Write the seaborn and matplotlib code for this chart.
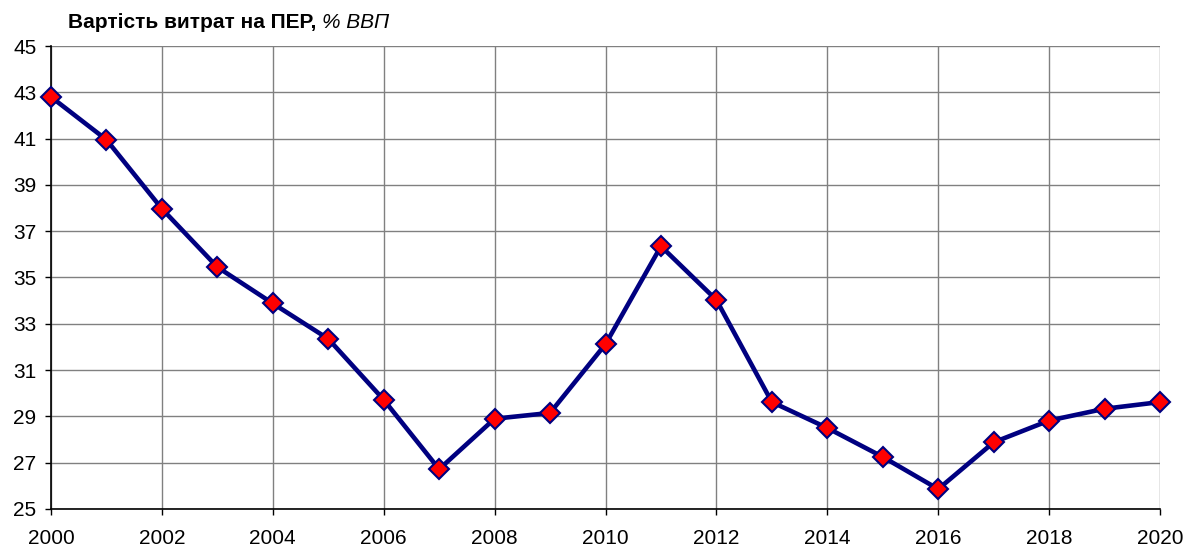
import numpy as np
import pandas as pd
import seaborn as sns
import matplotlib.pyplot as plt

years = list(range(2000, 2021))
values = [42.8, 40.95, 37.97, 35.45, 33.88, 32.35, 29.72, 26.72, 28.9, 29.15,
          32.12, 36.35, 34.03, 29.62, 28.5, 27.25, 25.86, 27.88, 28.82, 29.33, 29.62]
xticks = list(range(2000, 2021, 2))
yticks = list(range(25, 46, 2))

df = pd.DataFrame({"year": years, "value": values})

sns.set_style("white")
plt.rcParams['font.family'] = ['Liberation Sans', 'DejaVu Sans']
plt.rcParams['text.color'] = 'black'
plt.rcParams['xtick.color'] = 'black'
plt.rcParams['ytick.color'] = 'black'

fig = plt.figure(figsize=(11.85, 5.49), dpi=100)
ax = fig.add_axes([51 / 1185, 1 - 509 / 549, (1160 - 51) / 1185, (509 - 46) / 549])

sns.lineplot(data=df, x="year", y="value", ax=ax, color="#000080", linewidth=3.3,
             marker="D", markersize=10, markerfacecolor="#ff0000",
             markeredgecolor="#000080", markeredgewidth=1.5, zorder=3, clip_on=False)

ax.set_xlim(2000, 2020)
ax.set_ylim(25, 45)
ax.set_xticks(xticks)
ax.set_yticks(yticks)
ax.tick_params(axis="x", labelsize=15, length=4.5, width=1, direction="out",
               bottom=True, pad=10)
ax.tick_params(axis="y", labelsize=15, length=4.5, width=1, direction="out",
               left=True, pad=6)
ax.grid(True, color="#808080", linewidth=1)
ax.set_axisbelow(True)
ax.set_xlabel("")
ax.set_ylabel("")
for side in ["top", "right"]:
    ax.spines[side].set_visible(False)
for side in ["left", "bottom"]:
    ax.spines[side].set_color("black")
    ax.spines[side].set_linewidth(1.2)

t1 = fig.text(68 / 1185, 1 - 22 / 549, "Вартість витрат на ПЕР, ", fontsize=15,
              fontweight="bold", va="center", ha="left")
fig.canvas.draw()
ext = t1.get_window_extent()
fig.text(ext.x1 / fig.bbox.width, 1 - 22 / 549, "% ВВП", fontsize=15,
         fontstyle="italic", va="center", ha="left")

fig.savefig("out.png", dpi=100)
